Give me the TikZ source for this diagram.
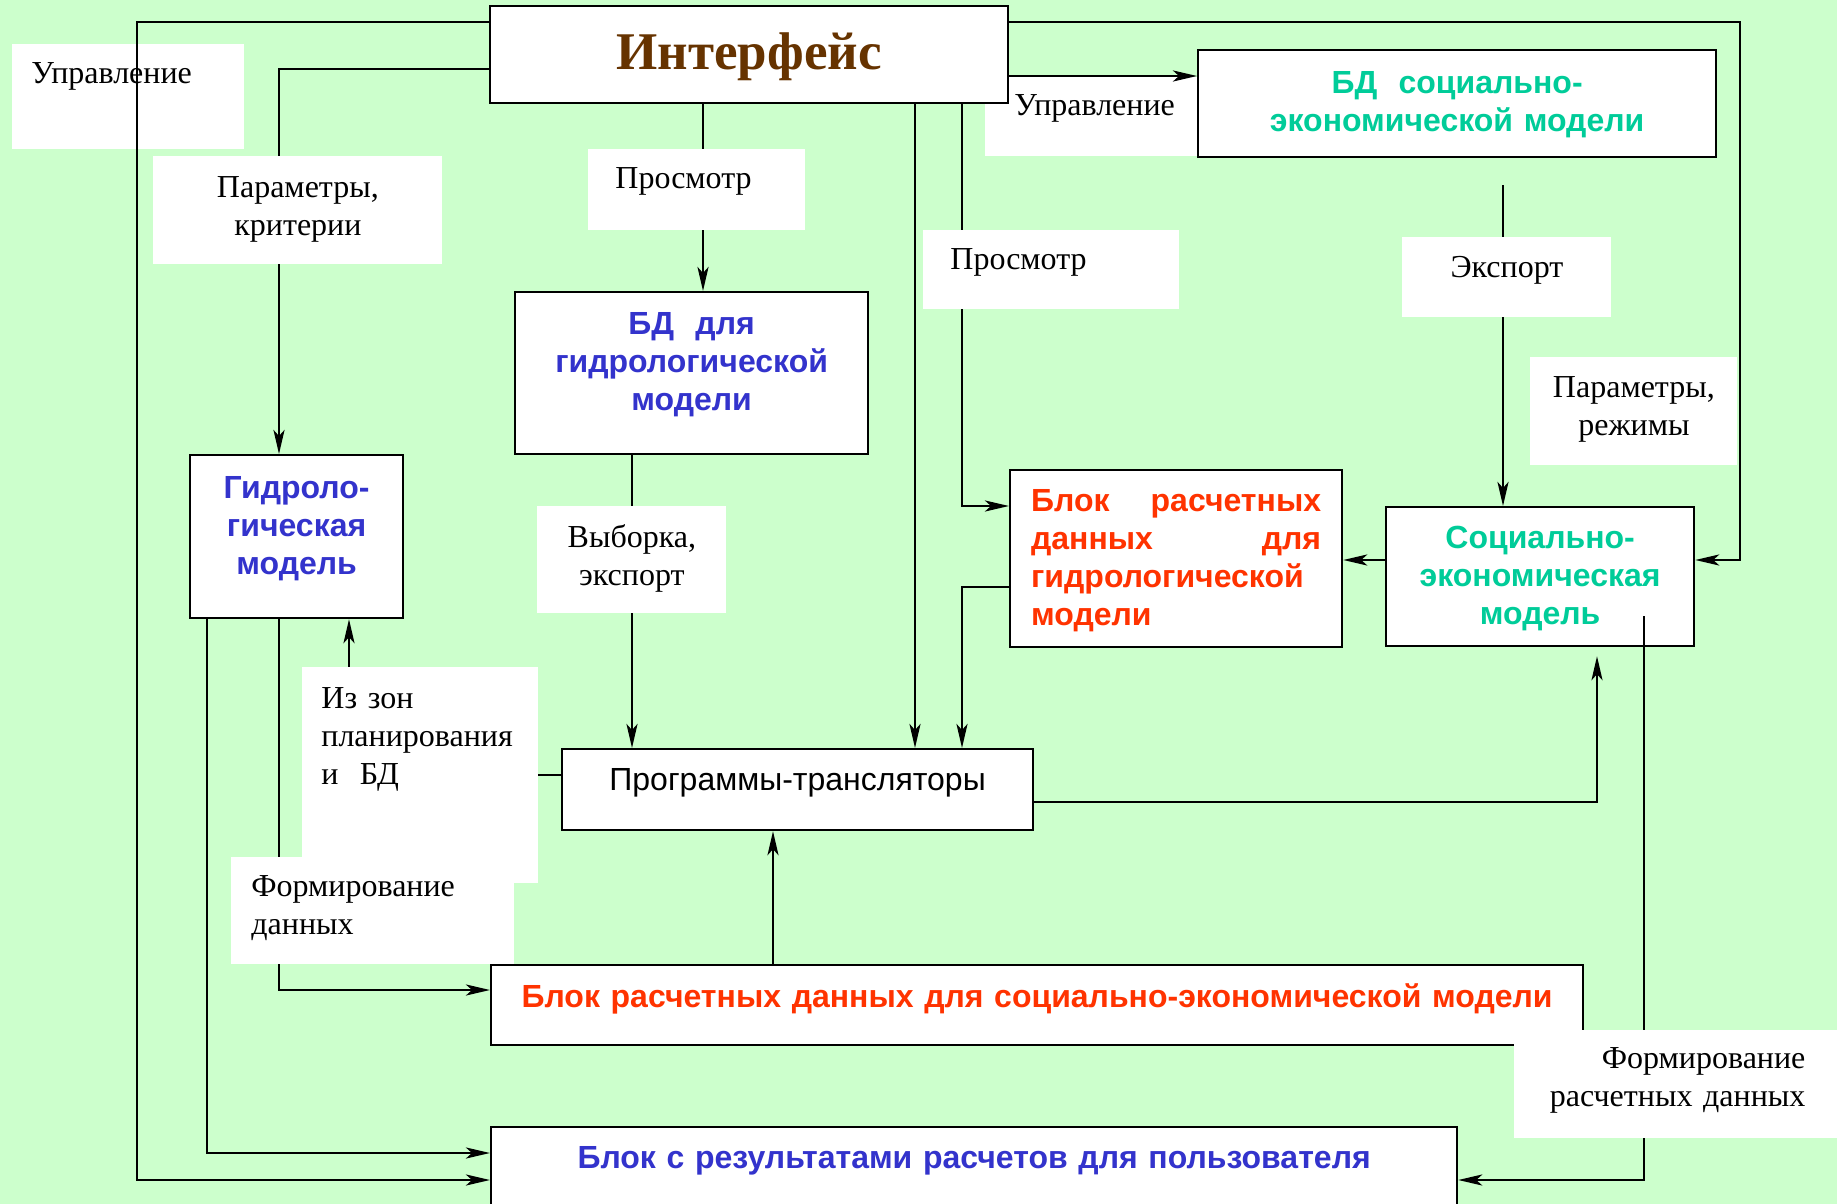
\documentclass[tikz,border=0pt]{standalone}
\usepackage{fontspec}
\setmainfont{Liberation Serif}
\newfontfamily\blkfont{Liberation Sans}
\usetikzlibrary{arrows.meta,calc}

\definecolor{bgcol}{RGB}{204,255,204}
\definecolor{ifcol}{RGB}{102,51,0}
\definecolor{socol}{RGB}{0,204,153}
\definecolor{hycol}{RGB}{51,51,204}
\definecolor{rdcol}{RGB}{255,51,0}

\tikzset{
  blk/.style={draw,fill=white,line width=1.1pt,anchor=north west,inner xsep=0pt,inner ysep=0pt,
    font=\blkfont\bfseries\fontsize{16}{19}\selectfont,align=center},
  lbl/.style={fill=white,anchor=north west,inner ysep=0pt,font=\fontsize{16}{19}\selectfont},
  link/.style={line width=1.35pt,-{Stealth[length=12pt,width=5.5pt,inset=3pt]}},
}

\begin{document}
\begin{tikzpicture}[x=0.5pt,y=-0.5pt,line cap=butt,line join=miter]

\useasboundingbox (0,0) rectangle (1837,1204);
\fill[bgcol] (0,0) rectangle (1837,1204);

% ---- labels lying under the lines ----
\node[lbl,inner xsep=9.5pt,text width=97pt,text height=19.5pt,text depth=33pt,align=left] (upr1) at (12,44) {Управление};
\node[lbl,inner xsep=14.5pt,text width=93.5pt,text height=19pt,text depth=20.5pt,align=left] (upr2) at (985,77) {Управление};

% ---- blocks ----
\node[blk,text width=259pt,text height=31.5pt,text depth=17pt,font=\bfseries\fontsize{26.5}{30}\selectfont,text=ifcol] (iface) at (489,5) {Интерфейс};
\node[blk,text width=259pt,text height=21.5pt,text depth=32pt,text=socol] (bdsoc) at (1197,49) {БД~~социально-\\экономической модели};
\node[blk,text width=176.5pt,text height=21pt,text depth=60pt,text=hycol] (bdhyd) at (514,291) {БД~~для\\гидрологической\\модели};
\node[blk,text width=106.5pt,text height=21.5pt,text depth=60pt,text=hycol] (hydmod) at (189,454) {Гидроло-\\гическая\\модель};
\node[blk,inner xsep=10.5pt,text width=145pt,text height=20.5pt,text depth=68pt,align=left,text=rdcol] (calchyd) at (1009,469)
  {\makebox[\linewidth][l]{Блок\hfill расчетных}\\\makebox[\linewidth][l]{данных\hfill для}\\гидрологической\\модели};
\node[blk,text width=154pt,text height=20.5pt,text depth=49pt,text=socol] (socmod) at (1385,506) {Социально-\\экономическая\\модель};
\node[blk,text width=235.5pt,text height=20.5pt,text depth=20pt,font=\blkfont\fontsize{16}{19}\selectfont] (prog) at (561,748) {Программы-трансляторы};
\node[blk,text width=546pt,text height=21pt,text depth=19pt,text=rdcol] (calcsoc) at (490,964) {Блок расчетных данных для социально-экономической модели};
\node[blk,text width=483pt,text height=20.5pt,text depth=30pt,text=hycol] (results) at (490,1126) {Блок с результатами расчетов для пользователя};

% ---- connectors ----
\draw[link] (iface.west |- 0,22) -| (137,1180) -- (results.west |- 0,1180);
\draw[link] (iface.west |- 0,69) -| (hydmod.north -| 279,0);
\draw[link] (iface.south -| 703,0) -- (bdhyd.north -| 703,0);
\draw[link] (iface.south -| 915,0) -- (prog.north -| 915,0);
\draw[link] (iface.south -| 962,0) |- (calchyd.west |- 0,506);
\draw[link] (calchyd.west |- 0,587) -| (prog.north -| 962,0);
\draw[link] (iface.east |- 0,22) -| (1740,560) -- (socmod.east |- 0,560);
\draw[link] (iface.east |- 0,76) -- (bdsoc.west |- 0,76);
\draw[link] ($(bdsoc.south -| 1503,0)+(0,27)$) -- (socmod.north -| 1503,0);
\draw[link] (socmod.west |- 0,560) -- (calchyd.east |- 0,560);
\draw[link] (bdhyd.south -| 632,0) -- (prog.north -| 632,0);
\draw[link] (hydmod.south -| 207,0) |- (results.west |- 0,1153);
\draw[link] (hydmod.south -| 279,0) |- (calcsoc.west |- 0,990);
\draw[link] (prog.west |- 0,775) -| (hydmod.south -| 349,0);
\draw[link] (calcsoc.north -| 773,0) -- (prog.south -| 773,0);
\draw[link] (prog.east |- 0,802) -| ($(socmod.south -| 1597,0)+(0,9)$);
\draw[link] ($(socmod.south -| 1644,0)+(0,-31)$) |- (results.east |- 0,1180);

% ---- labels over the lines ----
\node[lbl,inner xsep=0pt,text width=144.5pt,text height=20.5pt,text depth=33.5pt,align=center] (parkr) at (153,156) {Параметры,\\критерии};
\node[lbl,inner xsep=13.5pt,text width=81.5pt,text height=19.5pt,text depth=21pt,align=left] (pros1) at (588,149) {Просмотр};
\node[lbl,inner xsep=13.5pt,text width=101pt,text height=19.5pt,text depth=20pt,align=left] (pros2) at (923,230) {Просмотр};
\node[lbl,inner xsep=0pt,text width=104.5pt,text height=20pt,text depth=20pt,align=center] (expo) at (1402,237) {Экспорт};
\node[lbl,inner xsep=0pt,text width=103.5pt,text height=20pt,text depth=34pt,align=center] (parre) at (1530,357) {Параметры,\\режимы};
\node[lbl,inner xsep=0pt,text width=94.5pt,text height=20.5pt,text depth=33pt,align=center] (vyb) at (537,506) {Выборка,\\экспорт};
\node[lbl,inner xsep=9.5pt,text width=99pt,text height=20.5pt,text depth=87.5pt,align=left] (izzon) at (302,667) {Из зон\\планирования\\и~~БД};
\node[lbl,inner xsep=10pt,text width=121.5pt,text height=19.5pt,text depth=34pt,align=left] (form1) at (231,857) {Формирование\\данных};
\node[lbl,inner xsep=16pt,text width=129.5pt,text height=19pt,text depth=35pt,align=right] (form2) at (1514,1030) {Формирование\\расчетных данных};

\end{tikzpicture}
\end{document}
